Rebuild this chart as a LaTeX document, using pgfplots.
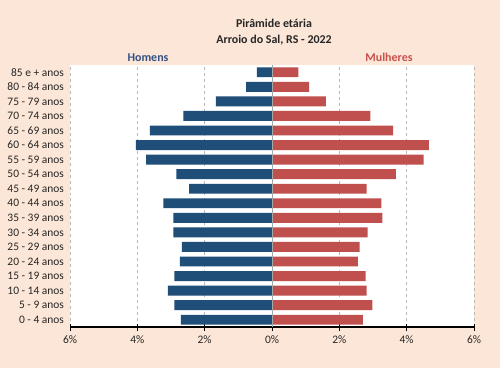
\documentclass[border=0pt]{standalone}
\usepackage{pgfplots}
\pgfplotsset{compat=1.18}
\usepackage{fontspec}
\setmainfont{Carlito}
\definecolor{bg}{RGB}{252,230,215}
\definecolor{men}{RGB}{31,78,121}
\definecolor{women}{RGB}{192,80,77}
\definecolor{mentxt}{RGB}{50,82,135}
\definecolor{womentxt}{RGB}{200,80,77}
\definecolor{titletxt}{RGB}{38,38,38}
\begin{document}
\begin{tikzpicture}
\fill[bg] (0bp,0bp) rectangle (500bp,-368bp);
\node[font=\fontsize{12}{14}\selectfont\bfseries, text=titletxt] at (274bp,-23bp) {Pirâmide etária};
\node[font=\fontsize{12}{14}\selectfont\bfseries, text=titletxt] at (274bp,-40bp) {Arroio do Sal, RS - 2022};
\node[font=\fontsize{12}{14}\selectfont\bfseries, text=mentxt] at (148bp,-57.5bp) {Homens};
\node[font=\fontsize{12}{14}\selectfont\bfseries, text=womentxt] at (389bp,-57.5bp) {Mulheres};
\begin{axis}[
  at={(70bp,-327bp)}, anchor=south west,
  scale only axis, width=404bp, height=262bp,
  xmin=-6, xmax=6, ymin=-0.5, ymax=17.5,
  xbar, bar shift=0pt, bar width=0.68,
  axis background/.style={fill=white},
  axis x line*=bottom, axis y line*=left,
  y axis line style={draw=none},
  x axis line style={black, line width=1.2pt},
  xtick={-6,-4,-2,0,2,4,6},
  xticklabels={6\%,4\%,2\%,0\%,2\%,4\%,6\%},
  ytick={0,...,17},
  yticklabels={0 - 4 anos,5 - 9 anos,10 - 14 anos,15 - 19 anos,20 - 24 anos,25 - 29 anos,30 - 34 anos,35 - 39 anos,40 - 44 anos,45 - 49 anos,50 - 54 anos,55 - 59 anos,60 - 64 anos,65 - 69 anos,70 - 74 anos,75 - 79 anos,80 - 84 anos,85 e + anos},
  tick align=center, major tick length=7bp,
  xtick style={black, line width=1pt},
  ytick style={draw=none},
  xmajorgrids, grid style={gray!55, dashed, line width=0.6pt},
  xticklabel style={font=\fontsize{11.5}{13}\selectfont, text=titletxt, yshift=-1.5bp},
  yticklabel style={font=\fontsize{11.5}{13}\selectfont, text=titletxt, xshift=1bp},
  clip=false,
]
\addplot[fill=men, draw=none] coordinates {(-2.71,0) (-2.90,1) (-3.09,2) (-2.90,3) (-2.74,4) (-2.68,5) (-2.93,6) (-2.93,7) (-3.23,8) (-2.46,9) (-2.84,10) (-3.74,11) (-4.04,12) (-3.63,13) (-2.63,14) (-1.67,15) (-0.77,16) (-0.45,17)};
\addplot[fill=women, draw=none] coordinates {(2.70,0) (2.98,1) (2.81,2) (2.78,3) (2.55,4) (2.60,5) (2.84,6) (3.28,7) (3.25,8) (2.81,9) (3.68,10) (4.50,11) (4.66,12) (3.60,13) (2.92,14) (1.60,15) (1.10,16) (0.78,17)};
\draw[gray!70, line width=0.8pt] (axis cs:0,-0.5) -- (axis cs:0,17.5);
\end{axis}
\end{tikzpicture}
\end{document}
